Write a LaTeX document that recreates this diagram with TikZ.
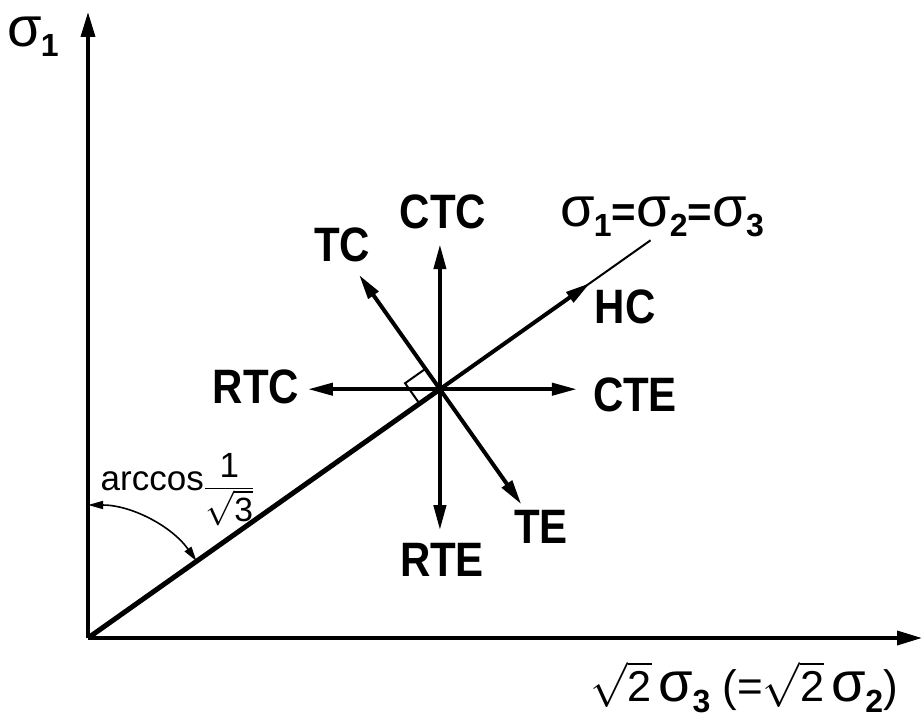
\documentclass[tikz,border=0pt]{standalone}
\usepackage{fontspec}
\usepackage{graphicx}
\setmainfont{Liberation Sans}
\usetikzlibrary{arrows.meta,calc}
\newcommand\sg[1]{{\fontsize{56}{58}\selectfont\mdseries σ}\kern-0.02em\raisebox{-0.45ex}{\fontsize{32}{34}\selectfont\bfseries #1}}
\newcommand\rtt[2]{\scalebox{#1}{$\sqrt{\mbox{\fontsize{24}{26}\selectfont #2}}$}}
\newcommand\tall[1]{\scalebox{1}[1.15]{#1}}
\tikzset{
  lbl/.style={font=\fontsize{42}{46}\selectfont\bfseries, inner sep=0pt},
  axis/.style={line width=3.5pt, -{Triangle[length=25pt,width=14pt]}},
  star/.style={line width=4pt, -{Triangle[length=25pt,width=12pt]}},
}
\begin{document}
\begin{tikzpicture}[x=1pt,y=1pt]
\useasboundingbox (0,0) rectangle (923,724);
\coordinate (O) at (88,86);
\coordinate (C) at ($(O)+(35.26:431)$);
\coordinate (ytop) at (88,712);
\coordinate (xend) at (922,86);
% axes
\draw[axis] (O) -- (ytop);
\draw[axis] (O) -- (xend);
% hydrostatic line
\coordinate (thinend) at ($(C)+(35.26:258)$);
\coordinate (hcend) at ($(C)+(35.26:184)$);
\draw[line width=2pt] (C) -- (thinend);
\draw[line width=5pt] (O) -- (C);
\draw[star] (C) -- (hcend);
% star arrows
\coordinate (ctc) at ($(C)+(0,145)$);
\coordinate (rte) at ($(C)+(0,-141)$);
\coordinate (rtc) at ($(C)+(-132,0)$);
\coordinate (cte) at ($(C)+(137,0)$);
\coordinate (tc) at ($(C)+(125.26:140)$);
\coordinate (te) at ($(C)+(-54.74:141)$);
\draw[star] (C) -- (ctc);
\draw[star] (C) -- (rte);
\draw[star] (C) -- (rtc);
\draw[star] (C) -- (cte);
\draw[star] (C) -- (tc);
\draw[star] (C) -- (te);
% right angle marker
\draw[line width=2pt] ($(C)+(125.26:25)$) -- ($(C)+(125.26:25)+(215.26:25)$) -- ($(C)+(215.26:25)$);
% angle arc
\draw[line width=1.6pt, {Triangle[length=15pt,width=8pt]}-{Triangle[length=15pt,width=8pt]}]
  ($(O)+(90:133)$) arc[start angle=90, end angle=35.26, radius=133];
% labels
\node[lbl] (s1) at (33,687) {\sg{1}};
\node[lbl] (lctc) at (443,512) {\tall{CTC}};
\node[lbl] (ltc) at (342,479) {\tall{TC}};
\node[lbl] (lhc) at (625,417) {\tall{HC}};
\node[lbl] (lrtc) at (256,337) {\tall{RTC}};
\node[lbl] (lcte) at (635,329) {\tall{CTE}};
\node[lbl] (lte) at (541,197) {\tall{TE}};
\node[lbl] (lrte) at (442,164) {\tall{RTE}};
\node[lbl] (lhyd) at (662,507) {\sg{1}=\sg{2}=\sg{3}};
\node[lbl, font=\fontsize{44}{46}\selectfont] (lx) at (744,37) {\rtt{1.8}{2}\,\sg{3} (=\rtt{1.8}{2}\,\sg{2})};
\node[inner sep=0pt, font=\fontsize{35}{38}\selectfont, anchor=east] (larc) at (204,243) {arccos};
\node[inner sep=0pt, font=\fontsize{35}{38}\selectfont, anchor=west] (lfrac) at (204,234) {$\displaystyle\frac{\mbox{1}}{\mbox{\rtt{1.4}{3}}}$};
\end{tikzpicture}
\end{document}
